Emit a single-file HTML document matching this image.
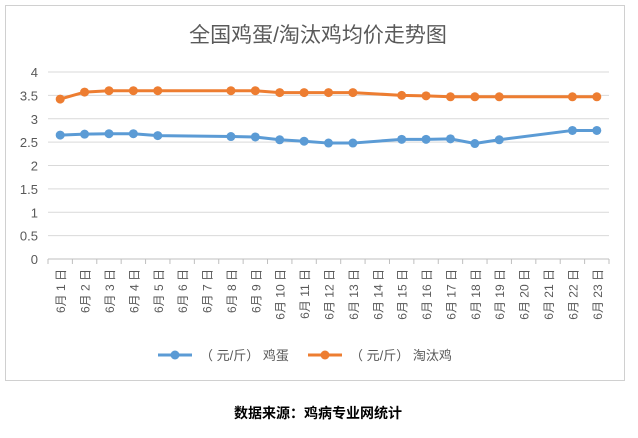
<!DOCTYPE html>
<html><head><meta charset="utf-8"><style>
body{margin:0;background:#fff;width:638px;height:433px;overflow:hidden;font-family:"Liberation Sans","Noto Sans CJK SC",sans-serif}
</style></head><body>
<svg width="638" height="433" id="c" font-family="Liberation Sans, Noto Sans CJK SC, sans-serif">
<rect x="5.5" y="5.5" width="619" height="375" fill="#fff" stroke="#d0d0d0"/>
<text x="318" y="42" font-size="21" fill="#595959" text-anchor="middle">全国鸡蛋/淘汰鸡均价走势图</text>
<text x="318" y="418" font-size="14" font-weight="bold" fill="#000" text-anchor="middle">数据来源：鸡病专业网统计</text>
<g id="g"></g>
</svg>
<script>
const categories=["6月 1 日","6月 2 日","6月 3 日","6月 4 日","6月 5 日","6月 6 日","6月 7 日","6月 8 日","6月 9 日","6月 10 日","6月 11 日","6月 12 日","6月 13 日","6月 14 日","6月 15 日","6月 16 日","6月 17 日","6月 18 日","6月 19 日","6月 20 日","6月 21 日","6月 22 日","6月 23 日"];
const eggValues=[2.65,2.67,2.68,2.68,2.64,null,null,2.62,2.61,2.55,2.52,2.48,2.48,null,2.56,2.56,2.57,2.47,2.55,null,null,2.75,2.75];
const henValues=[3.42,3.57,3.60,3.60,3.60,null,null,3.60,3.60,3.56,3.56,3.56,3.56,null,3.50,3.49,3.47,3.47,3.47,null,null,3.47,3.47];
const yTicks=[0,0.5,1,1.5,2,2.5,3,3.5,4];
const yTickLabels=["0","0.5","1","1.5","2","2.5","3","3.5","4"];
const ns="http://www.w3.org/2000/svg",g=document.getElementById('g');
const L=48,R=609,T=72,B=259,ymax=4;
const step=(R-L)/categories.length;
const xs=i=>L+step*(i+0.5), ys=v=>B-(v/ymax)*(B-T);
function mk(t,a,p){const e=document.createElementNS(ns,t);for(const k in a)e.setAttribute(k,a[k]);(p||g).appendChild(e);return e;}
yTicks.forEach((v,i)=>{
 const ln=mk('line',{x1:L,x2:R,y1:ys(v),y2:ys(v),stroke:i==0?'#bfbfbf':'#d9d9d9'});
 
 
 const t=mk('text',{x:38,y:ys(v)+5,'font-size':13,fill:'#595959','text-anchor':'end'});t.textContent=yTickLabels[i];
 
 
});
categories.forEach((c,i)=>{
 const x=L+step*(i+1);
 const tk=mk('line',{x1:x,x2:x,y1:B,y2:B+5,stroke:'#bfbfbf'});
 
 
 const t=mk('text',{transform:`translate(${xs(i)+5},${B+10}) rotate(-90)`,'font-size':12,fill:'#595959','text-anchor':'end'});t.textContent=c;
 
 
});
mk('line',{x1:L,x2:L,y1:B,y2:B+5,stroke:'#bfbfbf'});
function series(vals,color,name){
 const pts=vals.map((v,i)=>v==null?null:[xs(i),ys(v)]).filter(p=>p);
 const pl=mk('polyline',{points:pts.map(p=>p.join(',')).join(' '),fill:'none',stroke:color,'stroke-width':3});
 
 
 pts.forEach(p=>{const c=mk('circle',{cx:p[0],cy:p[1],r:4.5,fill:color});
  
  });
}
series(eggValues,'#5b9bd5','egg');
series(henValues,'#ed7d31','hen');
function legend(x,color,label,name){
 const l=mk('line',{x1:x,x2:x+34,y1:355,y2:355,stroke:color,'stroke-width':3});
 
 
 mk('circle',{cx:x+17,cy:355,r:4.5,fill:color});
 const t=mk('text',{x:x+42,y:360,'font-size':13,fill:'#595959'});t.textContent=label;
 
 
}
legend(158,'#5b9bd5','（ 元/斤） 鸡蛋','egg');
legend(308,'#ed7d31','（ 元/斤） 淘汰鸡','hen');
</script>
</body></html>
